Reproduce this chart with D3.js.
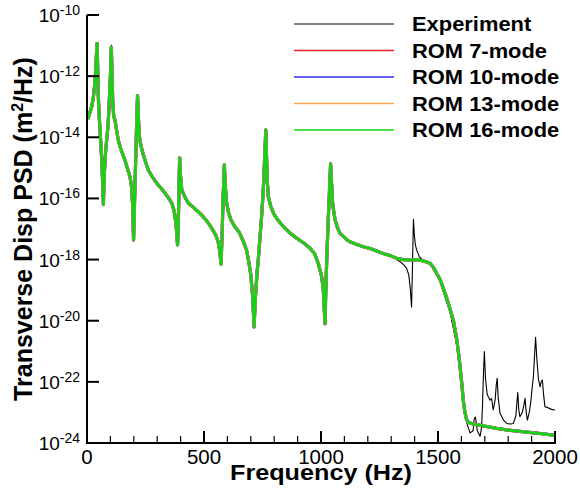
<!DOCTYPE html>
<html><head><meta charset="utf-8">
<script src="https://cdn.jsdelivr.net/npm/d3@7/dist/d3.min.js"></script>
<style>body{margin:0;background:#fff;}svg{display:block;font-family:"Liberation Sans",Arial,sans-serif;}</style>
</head><body>
<svg id="c" width="580" height="492"></svg>
<script>
// ---- data (frequency Hz, log10 PSD m^2/Hz) ----
const romPSD = [
[4,-13.4],[10,-13.25],[20,-13.0],[27,-12.7],[34,-12.2],[38,-11.7],[41,-11.2],[43,-10.93],[45,-11.5],[48,-12.6],
[52,-13.3],[56,-13.8],[62,-14.6],[66,-15.3],[70,-16.2],[74,-15.2],[80,-14.4],[84,-14.1],[90,-13.6],[94,-13.0],
[98,-12.4],[101,-11.8],[104,-11.05],[107,-12.0],[110,-12.8],[114,-13.3],[120,-13.45],[127,-13.8],[134,-14.1],
[145,-14.4],[155,-14.6],[162,-14.75],[172,-15.0],[184,-15.3],[190,-15.6],[195,-16.2],[199,-17.36],[203,-16.2],
[207,-15.0],[210,-14.2],[213,-13.3],[216,-12.64],[219,-13.2],[222,-13.8],[226,-14.1],[233,-14.35],[241,-14.58],
[250,-14.8],[262,-15.07],[280,-15.3],[298,-15.5],[315,-15.65],[333,-15.82],[350,-16.0],[362,-16.15],[372,-16.4],
[380,-16.8],[387,-17.52],[391,-16.5],[394,-15.3],[396,-14.67],[399,-15.2],[405,-15.72],[418,-15.95],[433,-16.15],
[455,-16.3],[476,-16.44],[497,-16.6],[518,-16.8],[535,-17.0],[550,-17.2],[560,-17.4],[567,-17.7],[573,-18.15],
[578,-17.0],[582,-15.9],[587,-14.9],[591,-15.6],[596,-16.1],[604,-16.44],[615,-16.7],[632,-16.93],[650,-17.1],
[668,-17.4],[682,-17.7],[692,-18.1],[700,-18.5],[708,-19.2],[714,-20.2],[720,-19.2],[727,-18.4],[732,-18.0],
[740,-17.2],[746,-16.6],[752,-15.9],[756,-15.29],[760,-14.5],[764,-13.76],[767,-14.6],[771,-15.5],[775,-15.94],
[785,-16.25],[797,-16.49],[815,-16.7],[839,-16.92],[865,-17.12],[896,-17.3],[925,-17.45],[953,-17.63],[972,-17.8],
[988,-18.12],[1003,-18.56],[1010,-19.0],[1017,-20.1],[1022,-18.6],[1027,-17.47],[1032,-16.5],[1037,-15.6],
[1041,-14.87],[1045,-15.5],[1050,-16.2],[1060,-16.7],[1070,-16.95],[1081,-17.14],[1096,-17.25],[1110,-17.35],
[1124,-17.42],[1150,-17.5],[1181,-17.58],[1210,-17.64],[1238,-17.72],[1265,-17.8],[1295,-17.87],[1323,-17.96],
[1350,-18.0],[1380,-18.02],[1410,-18.0],[1440,-18.05],[1466,-18.12],[1480,-18.25],[1494,-18.45],[1509,-18.65],
[1523,-18.95],[1537,-19.25],[1551,-19.6],[1566,-20.0],[1580,-20.6],[1590,-21.2],[1601,-22.0],[1608,-22.6],
[1615,-23.0],[1622,-23.22],[1630,-23.33],[1650,-23.38],[1700,-23.45],[1750,-23.52],[1800,-23.58],[1850,-23.62],
[1900,-23.66],[1950,-23.7],[2000,-23.75]
];
const expPeakTip = [[104,-10.98]];
const expDiverging = [
[1323,-18.0],[1340,-18.08],[1355,-18.18],[1366,-18.29],[1375,-18.5],[1381,-18.9],[1387,-19.55],[1391,-18.2],
[1395,-16.68],[1399,-17.2],[1403,-17.5],[1409,-17.69],[1420,-17.9],[1430,-17.98],[1466,-18.14],[1494,-18.5],
[1509,-18.7],[1537,-19.4],[1551,-19.7],[1580,-20.8],[1601,-22.2],[1615,-23.1],[1625,-23.4],[1637,-23.67],
[1650,-23.6],[1655,-23.2],[1660,-23.15],[1668,-23.6],[1680,-23.78],[1686,-23.5],[1690,-22.8],[1694,-21.8],
[1698,-21.01],[1703,-21.9],[1710,-22.4],[1715,-22.49],[1722,-22.6],[1729,-22.54],[1736,-22.92],[1744,-22.6],
[1749,-22.1],[1753,-21.88],[1757,-22.5],[1765,-23.03],[1780,-23.25],[1793,-23.36],[1810,-23.38],[1822,-23.36],
[1833,-23.1],[1838,-22.6],[1841,-22.35],[1845,-22.9],[1850,-23.14],[1860,-23.0],[1866,-22.8],[1872,-22.54],
[1877,-23.0],[1882,-23.25],[1890,-23.0],[1896,-22.7],[1900,-22.37],[1908,-21.8],[1913,-21.1],[1917,-20.54],
[1922,-21.2],[1929,-21.9],[1936,-22.16],[1941,-22.0],[1946,-21.94],[1951,-22.4],[1957,-22.81],[1970,-22.85],
[1985,-22.9],[2000,-22.92]
];
const seriesNames = ["Experiment","ROM 7-mode","ROM 10-mode","ROM 13-mode","ROM 16-mode"];
const seriesColors = ["#000000","#e8202a","#3030e0","#ffa64d","#14d214"];
const xTicksMajor = [0,500,1000,1500,2000];
const xTicksMinor = d3.range(0,2001,100);
const yTickExps = [-10,-12,-14,-16,-18,-20,-22,-24];

// exp = ROM-like below 1320 Hz (with its own peak tip) + diverging part
const expPSD = romPSD.filter(d => d[0] < 1320).map(d => {
  const t = expPeakTip.find(p => p[0] === d[0]); return t ? t : d;
}).concat(expDiverging);

// ---- layout ----
const svg = d3.select("#c");
const L = 87, R = 555, T = 15, B = 443;
const x = d3.scaleLinear().domain([0,2000]).range([L,R]);
const y = d3.scaleLog().domain([1e-24,1e-10]).range([B,T]);

svg.append("defs").append("clipPath").attr("id","clip")
  .append("rect").attr("x",L).attr("y",T).attr("width",R-L).attr("height",B-T);

const line = d3.line().x(d => x(d[0])).y(d => y(Math.pow(10,d[1])));
const g = svg.append("g").attr("clip-path","url(#clip)");
const data = [expPSD, romPSD, romPSD, romPSD, romPSD];
const widths = [1.1, 3.3, 3.1, 2.9, 2.7];
data.forEach((d,i) => {
  g.append("path").datum(d).attr("d",line).attr("fill","none")
   .attr("stroke",seriesColors[i]).attr("stroke-width",widths[i]).attr("stroke-linejoin","round");
});

// ---- axes ----
const ax = svg.append("g");
ax.append("line").attr("x1",L).attr("x2",L).attr("y1",T).attr("y2",B+1).attr("stroke","#000").attr("stroke-width",2);
ax.append("line").attr("x1",L-1).attr("x2",R+1).attr("y1",B).attr("y2",B).attr("stroke","#000").attr("stroke-width",2);

yTickExps.forEach(e => {
  const yy = y(Math.pow(10,e));
  ax.append("line").attr("x1",L).attr("x2",L+12).attr("y1",yy).attr("y2",yy).attr("stroke","#000").attr("stroke-width",2);
  const t = ax.append("text").attr("x",80).attr("y",yy+7).attr("text-anchor","end").attr("font-size",19).attr("fill","#000");
  t.append("tspan").text("10");
  t.append("tspan").attr("dy",-7).attr("font-size",14).text(String(e));
});
xTicksMinor.forEach(v => {
  const major = xTicksMajor.includes(v);
  ax.append("line").attr("x1",x(v)).attr("x2",x(v)).attr("y1",B).attr("y2",B-(major?12:7))
    .attr("stroke","#000").attr("stroke-width",major?2:1.2);
});
xTicksMajor.forEach(v => {
  ax.append("text").attr("x",x(v)).attr("y",464).attr("text-anchor","middle").attr("font-size",20.5).text(v);
});

svg.append("text").attr("x",(L+R)/2).attr("y",480).attr("text-anchor","middle")
  .attr("font-size",21.5).attr("font-weight","bold")
  .attr("textLength",182).attr("lengthAdjust","spacingAndGlyphs").text("Frequency (Hz)");
const yl = svg.append("text").attr("transform",`translate(32,${(T+B)/2}) rotate(-90)`).attr("text-anchor","middle")
  .attr("font-size",25).attr("font-weight","bold");
yl.append("tspan").text("Transverse Disp PSD (m");
yl.append("tspan").attr("dy",-9).attr("font-size",16).text("2");
yl.append("tspan").attr("dy",9).text("/Hz)");

// ---- legend ----
const lg = svg.append("g");
seriesNames.forEach((n,i) => {
  const yy = 24 + i*26.5;
  lg.append("line").attr("x1",294).attr("x2",394).attr("y1",yy).attr("y2",yy)
    .attr("stroke",seriesColors[i]).attr("stroke-width",i===0?1.2:1.5);
  lg.append("text").attr("transform",`translate(412,${yy+7}) scale(1.095,1)`)
    .attr("font-size",20).attr("font-weight","bold").text(n);
});
</script>
</body></html>
